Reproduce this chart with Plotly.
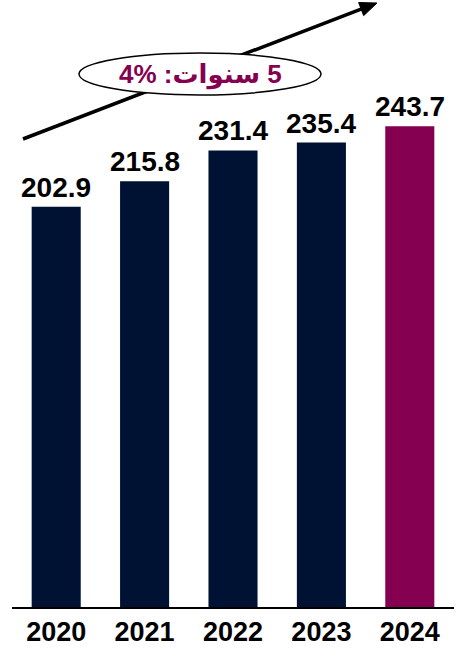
import plotly.graph_objects as go

years = ["2020", "2021", "2022", "2023", "2024"]
values = [202.9, 215.8, 231.4, 235.4, 243.7]
bar_colors = ["#001233", "#001233", "#001233", "#001233", "#850050"]
growth_label = "5 سنوات: 4%"

W, H = 462, 648
ML, MR, MT, MB = 12, 8, 0, 41
PW, PH = W - ML - MR, H - MT - MB


def px(x):
    return (x - ML) / PW


def py(y):
    return (H - MB - y) / PH


fig = go.Figure()
fig.add_trace(go.Bar(
    x=years, y=values,
    marker=dict(color=bar_colors, line=dict(width=0)),
    cliponaxis=False,
    hoverinfo="x+y",
))

# value labels: category axis positions given by serial index
for i, v in enumerate(values):
    fig.add_annotation(
        x=i, y=v, xref="x", yref="y",
        text=f"<b>{v:.1f}</b>", showarrow=False,
        xanchor="center", yanchor="bottom", yshift=2,
        font=dict(family="Liberation Sans, Arial", size=28, color="black"),
    )

# arrow geometry (pixels)
x0, y0 = 23, 139
x1, y1 = 377, 3
dx, dy = x1 - x0, y1 - y0
L = (dx ** 2 + dy ** 2) ** 0.5
ux, uy = dx / L, dy / L
hl, hw = 17, 7
bx, by = x1 - hl * ux, y1 - hl * uy
pxn, pyn = -uy, ux
p2 = (bx + hw * pxn, by + hw * pyn)
p3 = (bx - hw * pxn, by - hw * pyn)

shapes = [
    dict(type="line", xref="paper", yref="paper",
         x0=px(x0), y0=py(y0), x1=px(bx + 2 * ux), y1=py(by + 2 * uy),
         line=dict(color="black", width=3.5)),
    dict(type="path", xref="paper", yref="paper",
         path=f"M {px(x1)} {py(y1)} L {px(p2[0])} {py(p2[1])} L {px(p3[0])} {py(p3[1])} Z",
         fillcolor="black", line=dict(color="black", width=1)),
    dict(type="circle", xref="paper", yref="paper",
         x0=px(79), x1=px(321), y0=py(95), y1=py(53),
         fillcolor="white", line=dict(color="black", width=1.5)),
]

label_rtl = "\u202B" + growth_label.replace("4%", "\u202A4%\u202C") + "\u202C"
fig.add_annotation(
    xref="paper", yref="paper", x=px(200), y=py(74),
    text=f"<b>{label_rtl}</b>",
    showarrow=False,
    font=dict(family="Liberation Sans, DejaVu Sans, Arial", size=26, color="#850050"),
    xanchor="center", yanchor="middle",
)

fig.update_layout(
    width=W, height=H,
    margin=dict(l=ML, r=MR, t=MT, b=MB, autoexpand=False),
    paper_bgcolor="white", plot_bgcolor="white",
    bargap=0.445,
    showlegend=False,
    shapes=shapes,
    font=dict(family="Liberation Sans, Arial", color="black"),
    xaxis=dict(
        type="category", range=[-0.5, len(years) - 0.5], autorange=False,
        showline=True, linecolor="black", linewidth=2,
        showgrid=False, zeroline=False, ticks="",
        tickfont=dict(family="Liberation Sans, Arial", size=27, color="black"),
        tickprefix="<b>", ticksuffix="</b>",
        fixedrange=True, automargin=False,
    ),
    yaxis=dict(
        range=[0, PH / 1.973], autorange=False, visible=False,
        showgrid=False, zeroline=False, fixedrange=True,
    ),
)

fig.write_html(
    "out.html",
    config={"displayModeBar": False},
    post_script="document.body.style.margin='0';document.body.style.overflow='hidden';",
)
